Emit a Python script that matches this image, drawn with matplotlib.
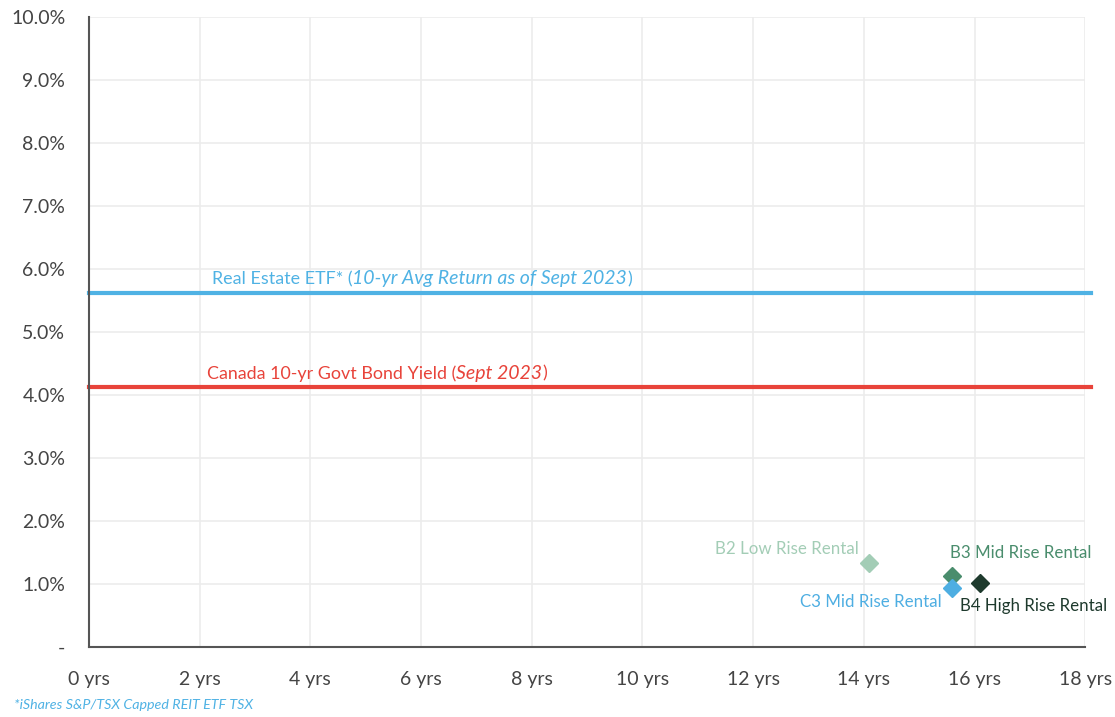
import matplotlib.pyplot as plt

plt.rcParams['font.family'] = ['Lato', 'DejaVu Sans']

# rentals: years vs yield
names = ['B2 Low Rise Rental', 'B3 Mid Rise Rental', 'C3 Mid Rise Rental', 'B4 High Rise Rental']
years = [14.1, 15.6, 15.6, 16.1]
yields = [1.33, 1.12, 0.94, 1.02]
colors = ['#a3cdb6', '#4a8d6d', '#4eaee2', '#1e3a2d']

etf_return = 5.62
bond_yield = 4.12

x_ticks = list(range(0, 19, 2))
x_labels = ['%d yrs' % v for v in x_ticks]
y_ticks = list(range(0, 11))
y_labels = ['-'] + ['%.1f%%' % v for v in y_ticks[1:]]

fig = plt.figure(figsize=(11.15, 7.17), dpi=100)
ax = fig.add_axes([0.0798, 0.0976, 0.8935, 0.8787])

ax.set_xlim(0, 18)
ax.set_ylim(0, 10)
ax.set_xticks(x_ticks)
ax.set_xticklabels(x_labels)
ax.set_yticks(y_ticks)
ax.set_yticklabels(y_labels)
ax.tick_params(length=0, labelsize=14, colors='#444444')
ax.tick_params(axis='x', pad=17)
ax.tick_params(axis='y', pad=17)
ax.grid(True, color='#ececec', linewidth=1.2)
ax.set_axisbelow(True)
for s in ['top', 'right']:
    ax.spines[s].set_visible(False)
for s in ['left', 'bottom']:
    ax.spines[s].set_color('#555555')
    ax.spines[s].set_linewidth(1.5)

ax.plot([0, 18.1], [etf_return, etf_return], color='#4fb2e4', linewidth=3, clip_on=False)
ax.plot([0, 18.1], [bond_yield, bond_yield], color='#e8433a', linewidth=3, clip_on=False)


def mixed_label(x, y, parts, color):
    # chain text pieces left to right, italic pieces a bit larger
    def style(ital):
        return dict(color=color, fontsize=14.0 if ital else 12.9,
                    fontstyle='italic' if ital else 'normal', va='bottom', ha='left')
    prev = ax.text(x, y, parts[0][0], **style(parts[0][1]))
    for txt, ital in parts[1:]:
        prev = ax.annotate(txt, xy=(1, 0), xycoords=prev, **style(ital))


mixed_label(2.22, etf_return + 0.09,
            [('Real Estate ETF* (', False), ('10-yr Avg Return as of Sept 2023', True), (')', False)],
            '#4fb2e4')
mixed_label(2.13, bond_yield + 0.09,
            [('Canada 10-yr Govt Bond Yield (', False), ('Sept 2023', True), (')', False)],
            '#e8433a')

for xv, yv, c in zip(years, yields, colors):
    ax.plot(xv, yv, marker='D', markersize=9.5, color=c, linestyle='none', zorder=3)

offsets = [(-8, 10.5, 'right'), (-1.5, 17, 'left'), (-8, -10, 'right'), (-14.5, -17, 'left')]
for n, xv, yv, c, (dx, dy, ha) in zip(names, years, yields, colors, offsets):
    ax.annotate(n, xy=(xv, yv), xytext=(dx, dy), textcoords='offset points',
                ha=ha, va='center', color=c, fontsize=12.2)

fig.text(0.0126, 0.0167, '*iShares S&P/TSX Capped REIT ETF TSX', color='#4fb2e4',
         fontsize=10.3, fontstyle='italic', ha='left', va='center')

fig.savefig('out.png', dpi=100)
